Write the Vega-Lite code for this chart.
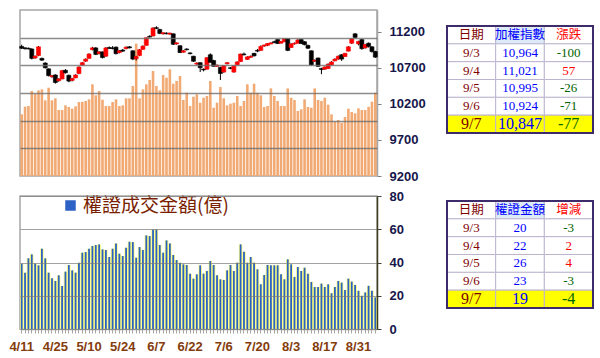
{
 "$schema": "https://vega.github.io/schema/vega-lite/v6.json",
 "padding": {"left": 8, "top": 9, "right": 0, "bottom": 0},
 "background": "white",
 "config": {"font": "Liberation Sans"},
 "datasets": {
  "days": [
   {"d":"4/11","o":10995,"h":11020,"l":10960,"c":10970,"v":1115,"w":39.3},
   {"d":"4/12","o":10975,"h":10985,"l":10950,"c":10965,"v":1252,"w":33.9},
   {"d":"4/13","o":10970,"h":10980,"l":10955,"c":10960,"v":1265,"w":42.5},
   {"d":"4/16","o":10960,"h":10970,"l":10815,"c":10830,"v":1536,"w":44.9},
   {"d":"4/17","o":10835,"h":10870,"l":10825,"c":10860,"v":1487,"w":39.3},
   {"d":"4/18","o":10870,"h":11000,"l":10860,"c":10990,"v":1548,"w":38.3},
   {"d":"4/19","o":10830,"h":10840,"l":10795,"c":10805,"v":1566,"w":48.3},
   {"d":"4/20","o":10765,"h":10775,"l":10690,"c":10700,"v":1367,"w":42.5},
   {"d":"4/23","o":10685,"h":10690,"l":10580,"c":10590,"v":1596,"w":33.9},
   {"d":"4/24","o":10575,"h":10600,"l":10560,"c":10590,"v":1367,"w":30.5},
   {"d":"4/25","o":10600,"h":10610,"l":10480,"c":10495,"v":1404,"w":28.9},
   {"d":"4/26","o":10520,"h":10555,"l":10505,"c":10545,"v":1193,"w":32.3},
   {"d":"4/27","o":10545,"h":10670,"l":10540,"c":10660,"v":1193,"w":25.9},
   {"d":"4/30","o":10665,"h":10680,"l":10620,"c":10630,"v":1277,"w":34.5},
   {"d":"5/2","o":10595,"h":10605,"l":10500,"c":10515,"v":1247,"w":38.5},
   {"d":"5/3","o":10525,"h":10560,"l":10510,"c":10550,"v":1216,"w":35.3},
   {"d":"5/4","o":10560,"h":10610,"l":10555,"c":10600,"v":1259,"w":33.9},
   {"d":"5/7","o":10620,"h":10720,"l":10610,"c":10710,"v":1337,"w":39.9},
   {"d":"5/8","o":10735,"h":10780,"l":10730,"c":10770,"v":1340,"w":45.9},
   {"d":"5/9","o":10790,"h":10830,"l":10780,"c":10820,"v":1355,"w":46.3},
   {"d":"5/10","o":10830,"h":10900,"l":10825,"c":10890,"v":1386,"w":48.3},
   {"d":"5/11","o":10950,"h":10990,"l":10940,"c":10975,"v":1657,"w":49.9},
   {"d":"5/14","o":10975,"h":10985,"l":10875,"c":10885,"v":1458,"w":50.5},
   {"d":"5/15","o":10895,"h":10930,"l":10885,"c":10920,"v":1536,"w":50.9},
   {"d":"5/16","o":10920,"h":10925,"l":10830,"c":10840,"v":1379,"w":47.9},
   {"d":"5/17","o":10860,"h":10985,"l":10850,"c":10975,"v":1265,"w":47.5},
   {"d":"5/18","o":10980,"h":10995,"l":10960,"c":10968,"v":1265,"w":43.3},
   {"d":"5/21","o":10975,"h":11000,"l":10955,"c":10965,"v":1337,"w":48.3},
   {"d":"5/22","o":10985,"h":10995,"l":10885,"c":10895,"v":1386,"w":51.5},
   {"d":"5/23","o":10910,"h":10945,"l":10900,"c":10935,"v":1265,"w":45.3},
   {"d":"5/24","o":10945,"h":10960,"l":10920,"c":10930,"v":1277,"w":43.9},
   {"d":"5/25","o":10965,"h":10995,"l":10955,"c":10985,"v":1404,"w":48.9},
   {"d":"5/28","o":10990,"h":11000,"l":10970,"c":10975,"v":1404,"w":52.5},
   {"d":"5/29","o":10935,"h":10940,"l":10805,"c":10820,"v":1626,"w":52.3},
   {"d":"5/30","o":10825,"h":10865,"l":10800,"c":10855,"v":2391,"w":42.9},
   {"d":"5/31","o":10870,"h":10960,"l":10860,"c":10950,"v":1404,"w":49.3},
   {"d":"6/1","o":10955,"h":11010,"l":10950,"c":11000,"v":1566,"w":47.5},
   {"d":"6/4","o":11010,"h":11120,"l":11005,"c":11115,"v":1657,"w":56.3},
   {"d":"6/5","o":11135,"h":11150,"l":11120,"c":11125,"v":1735,"w":55.9},
   {"d":"6/6","o":11140,"h":11260,"l":11135,"c":11250,"v":1897,"w":59.9},
   {"d":"6/7","o":11255,"h":11275,"l":11235,"c":11245,"v":1626,"w":59.9},
   {"d":"6/8","o":11230,"h":11240,"l":11165,"c":11175,"v":1548,"w":50.5},
   {"d":"6/11","o":11170,"h":11190,"l":11160,"c":11185,"v":1825,"w":45.9},
   {"d":"6/12","o":11180,"h":11190,"l":11165,"c":11170,"v":1776,"w":53.3},
   {"d":"6/13","o":11165,"h":11185,"l":11160,"c":11180,"v":1928,"w":51.5},
   {"d":"6/14","o":11170,"h":11175,"l":11015,"c":11025,"v":1668,"w":44.5},
   {"d":"6/15","o":11030,"h":11050,"l":11020,"c":11045,"v":1717,"w":41.5},
   {"d":"6/19","o":11005,"h":11010,"l":10905,"c":10910,"v":1807,"w":39.9},
   {"d":"6/20","o":10915,"h":10945,"l":10910,"c":10935,"v":1373,"w":38.9},
   {"d":"6/21","o":10960,"h":10970,"l":10940,"c":10950,"v":1505,"w":38.5},
   {"d":"6/22","o":10905,"h":10915,"l":10885,"c":10895,"v":1265,"w":33.3},
   {"d":"6/25","o":10860,"h":10865,"l":10780,"c":10790,"v":1433,"w":30.3},
   {"d":"6/26","o":10750,"h":10775,"l":10740,"c":10765,"v":1476,"w":32.9},
   {"d":"6/27","o":10770,"h":10775,"l":10640,"c":10700,"v":1325,"w":38.3},
   {"d":"6/28","o":10680,"h":10690,"l":10650,"c":10670,"v":1415,"w":33.3},
   {"d":"6/29","o":10680,"h":10845,"l":10675,"c":10840,"v":1446,"w":34.9},
   {"d":"7/2","o":10880,"h":10900,"l":10770,"c":10775,"v":1717,"w":40.9},
   {"d":"7/3","o":10800,"h":10810,"l":10715,"c":10720,"v":1234,"w":38.5},
   {"d":"7/4","o":10720,"h":10745,"l":10710,"c":10735,"v":1325,"w":32.3},
   {"d":"7/5","o":10705,"h":10715,"l":10530,"c":10620,"v":1608,"w":29.9},
   {"d":"7/6","o":10640,"h":10735,"l":10630,"c":10730,"v":1404,"w":29.5},
   {"d":"7/9","o":10755,"h":10780,"l":10745,"c":10770,"v":1277,"w":35.3},
   {"d":"7/10","o":10700,"h":10710,"l":10680,"c":10690,"v":1307,"w":38.5},
   {"d":"7/11","o":10640,"h":10735,"l":10630,"c":10725,"v":1325,"w":34.9},
   {"d":"7/12","o":10740,"h":10790,"l":10735,"c":10780,"v":1446,"w":39.9},
   {"d":"7/13","o":10785,"h":10895,"l":10780,"c":10890,"v":1265,"w":50.9},
   {"d":"7/16","o":10890,"h":10910,"l":10870,"c":10880,"v":1355,"w":46.5},
   {"d":"7/17","o":10815,"h":10860,"l":10810,"c":10850,"v":1657,"w":39.9},
   {"d":"7/18","o":10845,"h":10870,"l":10835,"c":10860,"v":1505,"w":43.3},
   {"d":"7/19","o":10900,"h":10905,"l":10855,"c":10865,"v":1668,"w":39.9},
   {"d":"7/20","o":10940,"h":10960,"l":10915,"c":10930,"v":1505,"w":35.9},
   {"d":"7/23","o":10940,"h":11010,"l":10935,"c":10995,"v":1458,"w":26.9},
   {"d":"7/24","o":11000,"h":11020,"l":10990,"c":11015,"v":1247,"w":32.5},
   {"d":"7/25","o":11010,"h":11040,"l":11000,"c":11035,"v":1265,"w":38.5},
   {"d":"7/26","o":11030,"h":11050,"l":11025,"c":11045,"v":1584,"w":38.3},
   {"d":"7/27","o":11060,"h":11075,"l":11040,"c":11050,"v":1446,"w":38.3},
   {"d":"7/30","o":11090,"h":11095,"l":11030,"c":11035,"v":1355,"w":38.3},
   {"d":"7/31","o":11040,"h":11070,"l":11035,"c":11065,"v":1265,"w":32.9},
   {"d":"8/1","o":11060,"h":11110,"l":11055,"c":11100,"v":1265,"w":29.9},
   {"d":"8/2","o":11100,"h":11105,"l":10930,"c":10940,"v":1584,"w":41.9},
   {"d":"8/3","o":10980,"h":11040,"l":10975,"c":11030,"v":1415,"w":38.9},
   {"d":"8/6","o":11030,"h":11050,"l":11020,"c":11040,"v":1373,"w":31.3},
   {"d":"8/7","o":11040,"h":11095,"l":11035,"c":11085,"v":1175,"w":37.3},
   {"d":"8/8","o":11090,"h":11100,"l":11030,"c":11035,"v":1205,"w":34.9},
   {"d":"8/9","o":11060,"h":11070,"l":11010,"c":11020,"v":1386,"w":36.9},
   {"d":"8/10","o":11010,"h":11020,"l":10960,"c":10970,"v":1247,"w":33.3},
   {"d":"8/13","o":10935,"h":10940,"l":10730,"c":10740,"v":1234,"w":28.3},
   {"d":"8/14","o":10790,"h":10815,"l":10780,"c":10805,"v":1584,"w":25.3},
   {"d":"8/15","o":10835,"h":10840,"l":10710,"c":10720,"v":1373,"w":25.3},
   {"d":"8/16","o":10690,"h":10700,"l":10610,"c":10675,"v":1355,"w":27.3},
   {"d":"8/17","o":10680,"h":10720,"l":10670,"c":10710,"v":1415,"w":25.3},
   {"d":"8/20","o":10690,"h":10760,"l":10685,"c":10750,"v":1289,"w":26.9},
   {"d":"8/21","o":10740,"h":10790,"l":10735,"c":10780,"v":1115,"w":21.5},
   {"d":"8/22","o":10795,"h":10830,"l":10790,"c":10820,"v":981,"w":25.3},
   {"d":"8/23","o":10820,"h":10870,"l":10810,"c":10860,"v":1012,"w":28.9},
   {"d":"8/24","o":10880,"h":10890,"l":10795,"c":10820,"v":963,"w":27.9},
   {"d":"8/27","o":10855,"h":10905,"l":10850,"c":10900,"v":1066,"w":23.5},
   {"d":"8/28","o":10930,"h":11000,"l":10925,"c":10990,"v":1216,"w":30.3},
   {"d":"8/29","o":11040,"h":11110,"l":11030,"c":11100,"v":1156,"w":28.5},
   {"d":"8/30","o":11170,"h":11180,"l":11110,"c":11120,"v":1133,"w":26.5},
   {"d":"8/31","o":11030,"h":11075,"l":11010,"c":11064,"v":1223,"w":23},
   {"d":"9/3","o":11090,"h":11100,"l":10950,"c":10964,"v":1193,"w":20},
   {"d":"9/4","o":10975,"h":11030,"l":10965,"c":11021,"v":1193,"w":22},
   {"d":"9/5","o":11040,"h":11050,"l":10980,"c":10995,"v":1250,"w":26},
   {"d":"9/6","o":10990,"h":11000,"l":10910,"c":10924,"v":1343,"w":23},
   {"d":"9/7","o":10925,"h":10935,"l":10835,"c":10847,"v":1505,"w":19}
  ],
  "t1": [
   {"date":"9/3","val":10964,"chg":-100},
   {"date":"9/4","val":11021,"chg":57},
   {"date":"9/5","val":10995,"chg":-26},
   {"date":"9/6","val":10924,"chg":-71},
   {"date":"9/7","val":10847,"chg":-77}
  ],
  "h1": [{"h":"日期"},{"h":"加權指數"},{"h":"漲跌"}],
  "t2": [
   {"date":"9/3","val":20,"chg":-3},
   {"date":"9/4","val":22,"chg":2},
   {"date":"9/5","val":26,"chg":4},
   {"date":"9/6","val":23,"chg":-3},
   {"date":"9/7","val":19,"chg":-4}
  ],
  "h2": [{"h":"日期"},{"h":"權證金額"},{"h":"增減"}],
  "one": [{"k":1}]
 },
 "spacing": 20,
 "resolve": {"legend": {"color": "independent"}},
 "hconcat": [
  {
   "spacing": 20,
   "bounds": "flush",
   "resolve": {"legend": {"color": "independent"}},
   "vconcat": [
    {
     "width": 357, "height": 166,
     "data": {"name": "days"},
     "view": {"stroke": "#A6A6A6", "strokeWidth": 1.5},
     "encoding": {"x": {"field": "d", "type": "ordinal", "sort": null, "scale": {"paddingInner": 0, "paddingOuter": 0}, "axis": null}},
     "layer": [
      {"mark": {"type": "bar", "color": "#F2AA74", "size": 2.6},
       "encoding": {"y": {"field": "v", "type": "quantitative", "scale": {"domain": [0, 3000], "nice": false},
         "axis": {"orient": "left", "values": [500, 1000, 1500, 2000, 2500], "labels": false, "ticks": false, "domain": false, "grid": true, "gridColor": "#6E6E6E", "gridOpacity": 0.8, "gridWidth": 1.3, "zindex": 1, "title": null}}}},
      {"layer": [
        {"mark": {"type": "rule", "color": "#000000", "strokeWidth": 1},
         "encoding": {"y": {"field": "l", "type": "quantitative", "scale": {"domain": [9200, 11500], "nice": false, "zero": false},
           "axis": {"orient": "right", "values": [9200, 9700, 10200, 10700, 11200], "format": "d", "labelOverlap": false, "title": null, "grid": false, "tickSize": 4, "tickColor": "#7F7F7F", "domainColor": "#A6A6A6", "domainWidth": 1.5, "labelPadding": 8, "labelFont": "Liberation Sans", "labelFontWeight": "bold", "labelFontSize": 13, "labelColor": "#16164A"}},
          "y2": {"field": "h"}}},
        {"mark": {"type": "bar", "size": 4, "strokeWidth": 0.6},
         "encoding": {"y": {"field": "o", "type": "quantitative", "scale": {"domain": [9200, 11500], "nice": false, "zero": false},
           "axis": {"orient": "right", "values": [9200, 9700, 10200, 10700, 11200], "format": "d", "labelOverlap": false, "title": null, "grid": false, "tickSize": 4, "tickColor": "#7F7F7F", "domainColor": "#A6A6A6", "domainWidth": 1.5, "labelPadding": 8, "labelFont": "Liberation Sans", "labelFontWeight": "bold", "labelFontSize": 13, "labelColor": "#16164A"}},
          "y2": {"field": "c"},
          "color": {"condition": {"test": "datum.c >= datum.o", "value": "#FF0000"}, "value": "#000000"},
          "stroke": {"condition": {"test": "datum.c >= datum.o", "value": "#FF0000"}, "value": "#000000"}}}
      ]}
     ],
     "resolve": {"scale": {"y": "independent"}}
    },
    {
     "width": 357, "height": 133,
     "data": {"name": "days"},
     "view": {"stroke": "#A6A6A6", "strokeWidth": 1.5},
     "encoding": {"x": {"field": "d", "type": "ordinal", "sort": null, "scale": {"paddingInner": 0, "paddingOuter": 0},
       "axis": {"title": null, "labelAngle": 0, "labelOverlap": false,
        "labelExpr": "indexof(['4/11','4/25','5/10','5/24','6/7','6/22','7/6','7/20','8/3','8/17','8/31'], datum.value) >= 0 ? datum.value : ''",
        "labelFont": "Liberation Sans", "labelFontWeight": "bold", "labelFontSize": 13, "labelColor": "#843C0C", "labelPadding": 7,
        "tickSize": 4, "tickColor": "#A6A6A6", "domainColor": "#A6A6A6", "domainWidth": 1.5}}},
     "layer": [
      {"mark": {"type": "bar", "color": "#FFFF77"},
       "encoding": {"y": {"field": "w", "type": "quantitative", "scale": {"domain": [0, 80], "nice": false},
         "axis": {"orient": "right", "values": [0, 20, 40, 60, 80], "labelOverlap": false, "title": null, "grid": true, "gridColor": "#7A7A7A", "gridOpacity": 0.7, "gridWidth": 1.2, "zindex": 1, "tickSize": 4, "tickColor": "#404040", "domainColor": "#3F3F1F", "domainWidth": 1.5, "labelPadding": 8, "labelFont": "Liberation Sans", "labelFontWeight": "bold", "labelFontSize": 13, "labelColor": "#16164A"}}}},
      {"mark": {"type": "bar", "size": 1.8},
       "encoding": {"y": {"field": "w", "type": "quantitative", "scale": {"domain": [0, 80], "nice": false},
         "axis": {"orient": "right", "values": [0, 20, 40, 60, 80], "labelOverlap": false, "title": null, "grid": true, "gridColor": "#7A7A7A", "gridOpacity": 0.7, "gridWidth": 1.2, "zindex": 1, "tickSize": 4, "tickColor": "#404040", "domainColor": "#3F3F1F", "domainWidth": 1.5, "labelPadding": 8, "labelFont": "Liberation Sans", "labelFontWeight": "bold", "labelFontSize": 13, "labelColor": "#16164A"}},
        "color": {"datum": "權證成交金額(億)", "type": "nominal", "scale": {"range": ["#2C62C5"]},
         "legend": {"orient": "none", "legendX": 41, "legendY": 0, "title": null, "padding": 0, "symbolType": "square", "symbolSize": 110, "symbolStrokeWidth": 0, "labelFont": "Noto Sans CJK TC", "labelFontSize": 19, "labelColor": "#7A1E00", "labelOffset": 3, "labelLimit": 300}}}}
     ]
    }
   ]
  },
  {
   "spacing": 66,
   "vconcat": [
    {
     "width": 146, "height": 123,
     "view": {"stroke": null},
     "layer": [
      {"data": {"name": "h1"}, "mark": {"type": "rect", "stroke": "#BDB5CF", "strokeWidth": 1},
       "encoding": {"x": {"field": "h", "type": "nominal", "scale": {"domain": ["日期","加權指數","漲跌"], "paddingInner": 0, "paddingOuter": 0}, "axis": null},
        "y": {"datum": "h", "type": "nominal", "scale": {"domain": ["h","9/3","9/4","9/5","9/6","9/7"], "range": [16, 123], "paddingInner": 0, "paddingOuter": 0}, "axis": null},
        "fill": {"condition": {"test": "datum.h == '加權指數'", "value": "#DDEBF7"}, "value": "#FFFFFF"}}},
      {"data": {"name": "t1"}, "mark": {"type": "rect", "stroke": "#BDB5CF", "strokeWidth": 1},
       "encoding": {"x": {"datum": "日期", "type": "nominal"}, "y": {"field": "date", "type": "nominal"},
        "fill": {"condition": {"test": "datum.date == '9/7'", "value": "#FFFF00"}, "value": "#FFFFFF"}}},
      {"data": {"name": "t1"}, "mark": {"type": "rect", "stroke": "#BDB5CF", "strokeWidth": 1},
       "encoding": {"x": {"datum": "加權指數", "type": "nominal"}, "y": {"field": "date", "type": "nominal"},
        "fill": {"condition": {"test": "datum.date == '9/7'", "value": "#FFFF00"}, "value": "#FFFFFF"}}},
      {"data": {"name": "t1"}, "mark": {"type": "rect", "stroke": "#BDB5CF", "strokeWidth": 1},
       "encoding": {"x": {"datum": "漲跌", "type": "nominal"}, "y": {"field": "date", "type": "nominal"},
        "fill": {"condition": {"test": "datum.date == '9/7'", "value": "#FFFF00"}, "value": "#FFFFFF"}}},
      {"data": {"name": "one"}, "mark": {"type": "rect", "filled": false, "stroke": "#3D2B6B", "strokeWidth": 2},
       "encoding": {"x": {"datum": "日期", "type": "nominal", "bandPosition": 0}, "x2": {"datum": "漲跌", "bandPosition": 1},
        "y": {"datum": "h", "type": "nominal", "bandPosition": 0}, "y2": {"datum": "9/7", "bandPosition": 1}}},
      {"data": {"name": "h1"}, "mark": {"type": "text", "font": "Noto Sans CJK TC", "fontSize": 12.5},
       "encoding": {"x": {"field": "h", "type": "nominal"}, "y": {"datum": "h", "type": "nominal"}, "text": {"field": "h"},
        "color": {"condition": [{"test": "datum.h == '日期'", "value": "#800000"}, {"test": "datum.h == '漲跌'", "value": "#FF0000"}], "value": "#0000FF"}}},
      {"data": {"name": "t1"}, "mark": {"type": "text", "font": "Liberation Serif"},
       "encoding": {"x": {"datum": "日期", "type": "nominal"}, "y": {"field": "date", "type": "nominal"}, "text": {"field": "date"},
        "color": {"value": "#800000"}, "size": {"condition": {"test": "datum.date == '9/7'", "value": 16}, "value": 13}}},
      {"data": {"name": "t1"}, "mark": {"type": "text", "font": "Liberation Serif"},
       "encoding": {"x": {"datum": "加權指數", "type": "nominal"}, "y": {"field": "date", "type": "nominal"}, "text": {"field": "val", "type": "quantitative", "format": ","},
        "color": {"value": "#0000FF"}, "size": {"condition": {"test": "datum.date == '9/7'", "value": 16}, "value": 13}}},
      {"data": {"name": "t1"}, "mark": {"type": "text", "font": "Liberation Serif"},
       "encoding": {"x": {"datum": "漲跌", "type": "nominal"}, "y": {"field": "date", "type": "nominal"}, "text": {"field": "chg", "type": "nominal"},
        "color": {"condition": {"test": "datum.chg > 0", "value": "#FF0000"}, "value": "#006400"}, "size": {"condition": {"test": "datum.date == '9/7'", "value": 16}, "value": 13}}}
     ]
    },
    {
     "width": 146, "height": 107,
     "view": {"stroke": null},
     "layer": [
      {"data": {"name": "h2"}, "mark": {"type": "rect", "stroke": "#BDB5CF", "strokeWidth": 1},
       "encoding": {"x": {"field": "h", "type": "nominal", "scale": {"domain": ["日期","權證金額","增減"], "paddingInner": 0, "paddingOuter": 0}, "axis": null},
        "y": {"datum": "h", "type": "nominal", "scale": {"domain": ["h","9/3","9/4","9/5","9/6","9/7"], "paddingInner": 0, "paddingOuter": 0}, "axis": null},
        "fill": {"condition": {"test": "datum.h == '權證金額'", "value": "#DDEBF7"}, "value": "#FFFFFF"}}},
      {"data": {"name": "t2"}, "mark": {"type": "rect", "stroke": "#BDB5CF", "strokeWidth": 1},
       "encoding": {"x": {"datum": "日期", "type": "nominal"}, "y": {"field": "date", "type": "nominal"},
        "fill": {"condition": {"test": "datum.date == '9/7'", "value": "#FFFF00"}, "value": "#FFFFFF"}}},
      {"data": {"name": "t2"}, "mark": {"type": "rect", "stroke": "#BDB5CF", "strokeWidth": 1},
       "encoding": {"x": {"datum": "權證金額", "type": "nominal"}, "y": {"field": "date", "type": "nominal"},
        "fill": {"condition": {"test": "datum.date == '9/7'", "value": "#FFFF00"}, "value": "#FFFFFF"}}},
      {"data": {"name": "t2"}, "mark": {"type": "rect", "stroke": "#BDB5CF", "strokeWidth": 1},
       "encoding": {"x": {"datum": "增減", "type": "nominal"}, "y": {"field": "date", "type": "nominal"},
        "fill": {"condition": {"test": "datum.date == '9/7'", "value": "#FFFF00"}, "value": "#FFFFFF"}}},
      {"data": {"name": "one"}, "mark": {"type": "rect", "filled": false, "stroke": "#3D2B6B", "strokeWidth": 2},
       "encoding": {"x": {"datum": "日期", "type": "nominal", "bandPosition": 0}, "x2": {"datum": "增減", "bandPosition": 1},
        "y": {"datum": "h", "type": "nominal", "bandPosition": 0}, "y2": {"datum": "9/7", "bandPosition": 1}}},
      {"data": {"name": "h2"}, "mark": {"type": "text", "font": "Noto Sans CJK TC", "fontSize": 12.5},
       "encoding": {"x": {"field": "h", "type": "nominal"}, "y": {"datum": "h", "type": "nominal"}, "text": {"field": "h"},
        "color": {"condition": [{"test": "datum.h == '日期'", "value": "#800000"}, {"test": "datum.h == '增減'", "value": "#FF0000"}], "value": "#0000FF"}}},
      {"data": {"name": "t2"}, "mark": {"type": "text", "font": "Liberation Serif"},
       "encoding": {"x": {"datum": "日期", "type": "nominal"}, "y": {"field": "date", "type": "nominal"}, "text": {"field": "date"},
        "color": {"value": "#800000"}, "size": {"condition": {"test": "datum.date == '9/7'", "value": 16}, "value": 13}}},
      {"data": {"name": "t2"}, "mark": {"type": "text", "font": "Liberation Serif"},
       "encoding": {"x": {"datum": "權證金額", "type": "nominal"}, "y": {"field": "date", "type": "nominal"}, "text": {"field": "val", "type": "nominal"},
        "color": {"value": "#0000FF"}, "size": {"condition": {"test": "datum.date == '9/7'", "value": 16}, "value": 13}}},
      {"data": {"name": "t2"}, "mark": {"type": "text", "font": "Liberation Serif"},
       "encoding": {"x": {"datum": "增減", "type": "nominal"}, "y": {"field": "date", "type": "nominal"}, "text": {"field": "chg", "type": "nominal"},
        "color": {"condition": {"test": "datum.chg > 0", "value": "#FF0000"}, "value": "#006400"}, "size": {"condition": {"test": "datum.date == '9/7'", "value": 16}, "value": 13}}}
     ]
    }
   ]
  }
 ]
}
